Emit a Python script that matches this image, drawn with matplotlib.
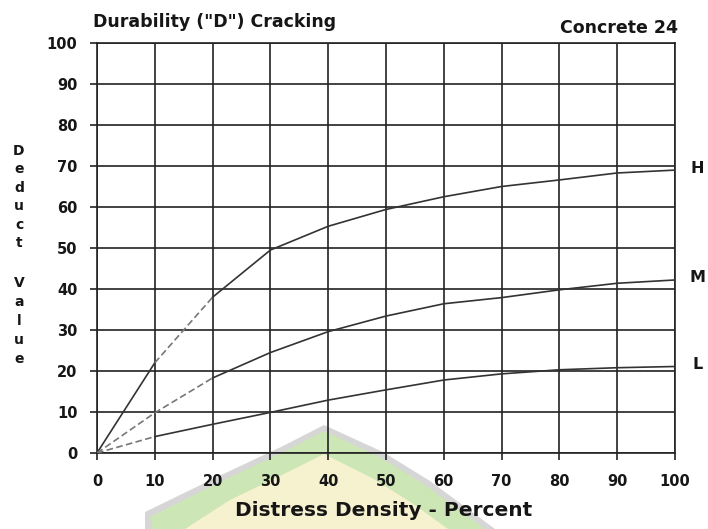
import matplotlib
matplotlib.use("Agg")
import matplotlib.pyplot as plt
from matplotlib.patches import Polygon

# ---- data ----
density = [0, 10, 20, 30, 40, 50, 60, 70, 80, 90, 100]
deduct_H = [0, 22, 38, 49.5, 55.3, 59.4, 62.5, 65.0, 66.6, 68.3, 69.0]
deduct_M = [0, 9.8, 18.3, 24.5, 29.6, 33.4, 36.4, 37.9, 39.8, 41.4, 42.2]
deduct_L = [0, 4.0, 7.0, 9.9, 12.9, 15.4, 17.8, 19.3, 20.3, 20.8, 21.1]
curve_names = ["H", "M", "L"]
# index range drawn dashed (start, end) for each curve
dashed_span = {"H": (1, 2), "M": (0, 2), "L": (0, 1)}

xticks = list(range(0, 101, 10))
yticks = list(range(0, 101, 10))

title_left = 'Durability ("D") Cracking'
title_right = "Concrete 24"
xlabel = "Distress Density - Percent"
ylabel_words = ["Deduct", "Value"]

W, H = 708, 529
plt.rcParams['font.family'] = ['DejaVu Sans']
fig = plt.figure(figsize=(W / 100, H / 100), dpi=100)
TXT = "#161616"

def fx(px):
    return px / W

def fy(py):
    return 1 - py / H

# faint watermark emblem behind the chart (bottom centre)
outer = [(145, 512), (217, 477), (283, 446), (324, 425), (383, 452), (430, 481), (495, 529), (145, 529)]
mid = [(152, 529), (150, 517), (220, 482), (285, 451), (324, 431), (380, 457), (425, 485), (485, 529)]
inner = [(185, 529), (230, 500), (290, 471), (324, 454), (372, 478), (412, 503), (448, 529)]
for pts, col in [(outer, "#d6d6d6"), (mid, "#cde6b5"), (inner, "#f6f2cf")]:
    fig.patches.append(Polygon([(fx(a), fy(b)) for a, b in pts], closed=True,
                               transform=fig.transFigure, facecolor=col,
                               edgecolor="none", zorder=-5, figure=fig))

ax = fig.add_axes([fx(97), fy(453), fx(675) - fx(97), fy(43) - fy(453)])
ax.set_zorder(2)
ax.patch.set_alpha(0)
ax.set_xlim(0, 100)
ax.set_ylim(0, 100)
ax.set_xticks(xticks)
ax.set_yticks(yticks)
ax.set_xticklabels([str(v) for v in xticks], fontsize=10.5, fontweight="bold", color=TXT)
ax.set_yticklabels([str(v) for v in yticks], fontsize=10.5, fontweight="bold", color=TXT)
ax.tick_params(axis="x", direction="out", length=5, width=1.2, pad=10, color="#222")
ax.tick_params(axis="y", direction="out", length=5, width=1.2, pad=9, color="#222")
ax.grid(True, color="#222", linewidth=1.2)
for s in ax.spines.values():
    s.set_color("#222")
    s.set_linewidth(1.2)

series = {"H": deduct_H, "M": deduct_M, "L": deduct_L}
for name in curve_names:
    ys = series[name]
    a, b = dashed_span[name]
    ax.plot(density[:a + 1], ys[:a + 1], color="#333", lw=1.2, zorder=3)
    ax.plot(density[a:b + 1], ys[a:b + 1], color="#777", lw=1.2, ls=(0, (4, 2)), zorder=3)
    ax.plot(density[b:], ys[b:], color="#333", lw=1.2, zorder=3)
    ax.annotate(name, xy=(100, ys[-1]), xytext=(16, 1.5), textcoords="offset points",
                ha="center", va="center", fontsize=11.5, fontweight="bold", color=TXT,
                annotation_clip=False)

fig.text(fx(93), fy(22), title_left, ha="left", va="center", fontsize=12.5,
         fontweight="bold", color=TXT)
fig.text(fx(678), fy(28), title_right, ha="right", va="center", fontsize=12.5,
         fontweight="bold", color=TXT)
fig.text(fx(384), fy(510), xlabel, ha="center", va="center", fontsize=14.5,
         fontweight="bold", color=TXT)

# stacked vertical y-label letters
y0 = 151
for i, ch in enumerate(ylabel_words[0]):
    fig.text(fx(19), fy(y0 + i * 18.4), ch, ha="center", va="center", fontsize=10,
             fontweight="bold", color=TXT)
y1 = 283
for i, ch in enumerate(ylabel_words[1]):
    fig.text(fx(19), fy(y1 + i * 19.0), ch, ha="center", va="center", fontsize=10,
             fontweight="bold", color=TXT)

fig.savefig("out.png", dpi=100)
